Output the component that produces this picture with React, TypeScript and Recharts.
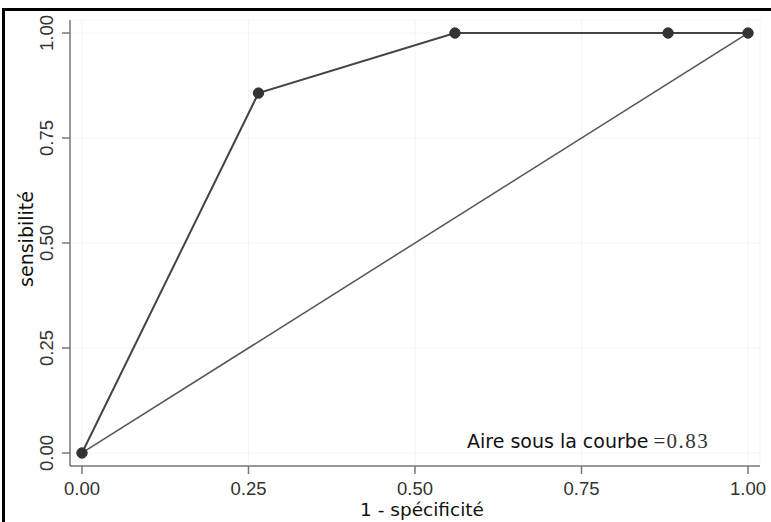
import React from "react";
import { ComposedChart, Line, XAxis, YAxis, CartesianGrid } from "recharts";

const fpr = [0, 0.265, 0.56, 0.88, 1];
const sensitivity = [0, 0.857, 1, 1, 1];
const diagX = [0, 1];
const diagY = [0, 1];
const xTicks = [0, 0.25, 0.5, 0.75, 1];
const yTicks = [0, 0.25, 0.5, 0.75, 1];
const xTitle = "1 - spécificité";
const yTitle = "sensibilité";
const aucText = "Aire sous la courbe";
const aucValue = "0.83";

const rocData = fpr.map((x, i) => ({ x, y: sensitivity[i] }));
const diagData = diagX.map((x, i) => ({ x, y: diagY[i] }));

const sans = "'DejaVu Sans', sans-serif";
const arial = "'Liberation Sans', Arial, sans-serif";
const serif = "'Liberation Serif', 'Times New Roman', serif";

const XTick = (props: any) => {
  const { x, y, payload } = props;
  return (
    <text x={x} y={y} dy={12} textAnchor="middle" fontFamily={arial} fontSize={18.5} fill="#333">
      {payload.value.toFixed(2)}
    </text>
  );
};

const YTick = (props: any) => {
  const { x, y, payload } = props;
  return (
    <text
      x={x}
      y={y}
      textAnchor="middle"
      transform={`rotate(-90, ${x}, ${y})`}
      fontFamily={arial}
      fontSize={18.5}
      fill="#333"
    >
      {payload.value.toFixed(2)}
    </text>
  );
};

export default function App() {
  return (
    <div style={{ position: "absolute", left: 0, top: 0, width: 771, height: 522, background: "#fff" }}>
      <div style={{ position: "absolute", left: 2, top: 8, width: 769, height: 3, background: "#000" }} />
      <div style={{ position: "absolute", left: 2, top: 8, width: 2.5, height: 514, background: "#000" }} />
      <div style={{ position: "absolute", left: 0, top: 0 }}>
        <ComposedChart width={771} height={522} margin={{ top: 20, right: 11, left: 10, bottom: 0 }}>
          <CartesianGrid stroke="#f4f4f4" strokeWidth={1} />
          <XAxis
            type="number"
            dataKey="x"
            domain={[-0.018, 1.018]}
            ticks={xTicks}
            allowDataOverflow
            height={56}
            tick={<XTick />}
            tickSize={8}
            tickMargin={9}
            stroke="#777"
            strokeWidth={1.5}
            label={{
              content: (p: any) => (
                <text
                  x={p.viewBox.x + p.viewBox.width / 2 + 7}
                  y={p.viewBox.y + 50}
                  textAnchor="middle"
                  fontFamily={sans}
                  fontSize={18.5}
                  fill="#111"
                >
                  {xTitle}
                </text>
              ),
            }}
          />
          <YAxis
            type="number"
            dataKey="y"
            domain={[-0.031, 1.031]}
            ticks={yTicks}
            allowDataOverflow
            width={60}
            tick={<YTick />}
            tickSize={8}
            tickMargin={9}
            stroke="#777"
            strokeWidth={1.5}
            label={{
              content: () => {
                const cx = 33;
                const cy = 239;
                return (
                  <text
                    x={cx}
                    y={cy}
                    textAnchor="middle"
                    transform={`rotate(-90, ${cx}, ${cy})`}
                    fontFamily={sans}
                    fontSize={19}
                    fill="#111"
                  >
                    {yTitle}
                  </text>
                );
              },
            }}
          />
          <Line
            data={diagData}
            dataKey="y"
            type="linear"
            stroke="#555"
            strokeWidth={1.5}
            dot={false}
            activeDot={false}
            isAnimationActive={false}
          />
          <Line
            data={rocData}
            dataKey="y"
            type="linear"
            stroke="#444"
            strokeWidth={2}
            dot={{ r: 5.2, fill: "#333", stroke: "#333", strokeWidth: 1 }}
            activeDot={false}
            isAnimationActive={false}
          />
        </ComposedChart>
      </div>
      <svg width={771} height={522} style={{ position: "absolute", left: 0, top: 0, pointerEvents: "none" }}>
        <text x={467} y={448} fontFamily={sans} fontSize={19} fill="#111">
          {aucText}
          <tspan fontFamily={serif} fontSize={21} dx={5} fill="#333">=</tspan>
          <tspan fontFamily={serif} fontSize={21} dx={1} letterSpacing={1.5} fill="#333">{aucValue}</tspan>
        </text>
      </svg>
    </div>
  );
}
